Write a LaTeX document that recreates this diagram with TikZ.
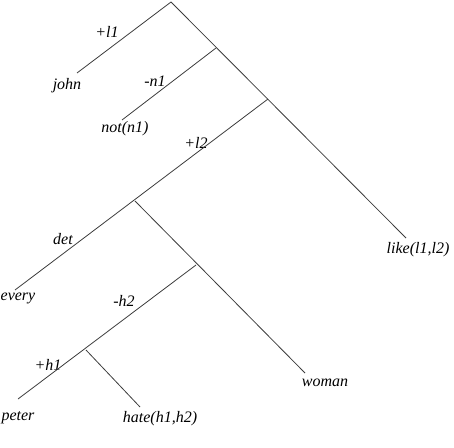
\documentclass[tikz,border=0pt]{standalone}
\usepackage{fontspec}
\setmainfont{Liberation Serif}
\usepackage{xcolor}
\usepackage{tikz}
\definecolor{cinzaescuro}{RGB}{60,60,60}
\tikzset{
  folha/.style={font=\itshape\fontsize{8}{9}\selectfont,inner sep=1pt},
  rotulo/.style={font=\itshape\fontsize{8}{9}\selectfont,inner sep=1pt},
  ramo/.style={line width=0.4pt,cinzaescuro}
}

\begin{document}
\begin{tikzpicture}[x=0.5pt,y=-0.5pt]
\useasboundingbox (0,0) rectangle (454,448);
% juncoes da arvore
\coordinate (raiz) at (171,2);
\coordinate (j1) at (216,48);
\coordinate (j2) at (268,99);
\coordinate (j3) at (135,201);
\coordinate (j4) at (196,265);
\coordinate (j5) at (86,350);
% pontas dos ramos
\coordinate (ejohn) at (77,73);
\coordinate (enot) at (122,120);
\coordinate (elike) at (406,238);
\coordinate (eevery) at (15,290);
\coordinate (ewoman) at (305,373);
\coordinate (epeter) at (18,399);
\coordinate (ehate) at (140,407);
% folhas
\node[folha] (john) at (67,86) {john};
\node[folha] (not) at (125,129) {not(n1)};
\node[folha] (like) at (418,250) {like(l1,l2)};
\node[folha] (every) at (18,298) {every};
\node[folha] (woman) at (325,383) {woman};
\node[folha] (peter) at (18,418) {peter};
\node[folha] (hate) at (160,419) {hate(h1,h2)};
% rotulos dos ramos
\node[rotulo] (l1) at (107,32) {+l1};
\node[rotulo] (n1) at (155,81) {-n1};
\node[rotulo] (l2) at (196,143) {+l2};
\node[rotulo] (det) at (63,239) {det};
\node[rotulo] (h2) at (124,301) {-h2};
\node[rotulo] (h1) at (48,365) {+h1};
% ramos
\draw[ramo] (raiz) -- (ejohn);
\draw[ramo] (raiz) -- (elike);
\draw[ramo] (j1) -- (enot);
\draw[ramo] (j2) -- (eevery);
\draw[ramo] (j3) -- (ewoman);
\draw[ramo] (j4) -- (epeter);
\draw[ramo] (j5) -- (ehate);
\end{tikzpicture}
\end{document}
